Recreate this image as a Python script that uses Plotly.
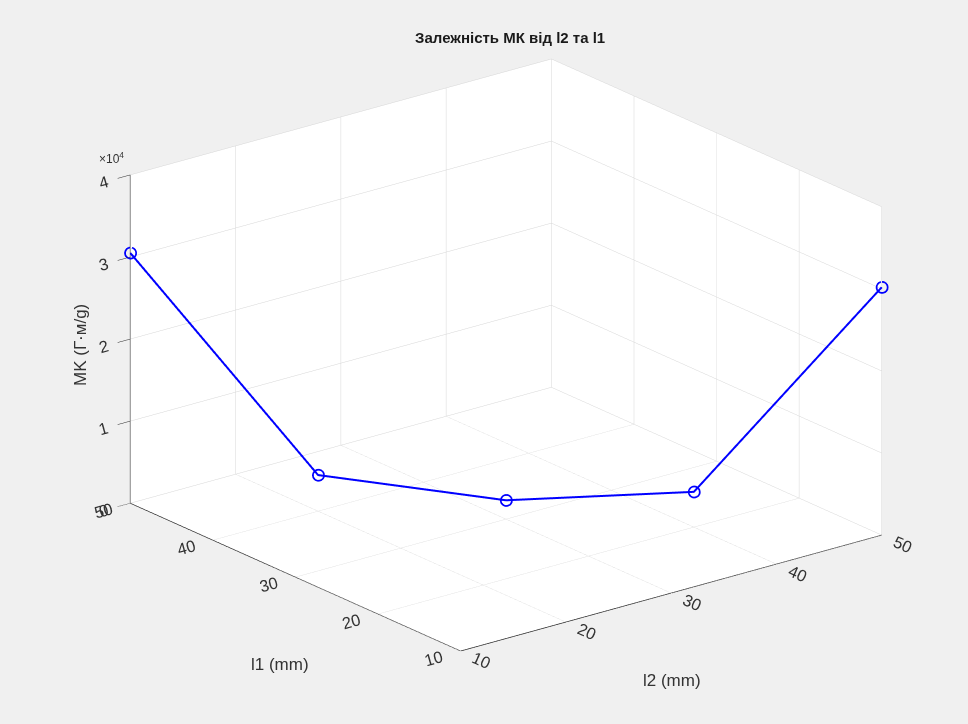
import plotly.graph_objects as go

# Data
l2 = [10, 20, 30, 40, 50]          # x axis (mm)
l1 = [50, 40, 30, 20, 10]          # y axis (mm)
mk = [30500, 4400, 2300, 4300, 30200]  # z axis

title_text = "Залежність МК від l2 та l1"
xlabel = "l2 (mm)"
ylabel = "l1 (mm)"
zlabel = "MK (Г·м/g)"
z_tickvals = [0, 10000, 20000, 30000, 40000]
z_ticktext = ["0", "1", "2", "3", "4"]
xy_ticks = [10, 20, 30, 40, 50]

FONT = "Liberation Sans, Arial, sans-serif"

fig = go.Figure()
fig.add_trace(go.Scatter3d(
    x=l2, y=l1, z=mk,
    mode="lines+markers",
    line=dict(color="rgb(0,0,255)", width=4),
    marker=dict(symbol="circle-open", size=7, color="rgb(0,0,255)",
                line=dict(color="rgb(0,0,255)", width=2)),
    showlegend=False,
))

axis_common = dict(
    showbackground=True,
    backgroundcolor="white",
    gridcolor="#d6d6d6",
    gridwidth=1,
    showline=True,
    linecolor="#262626",
    linewidth=1.5,
    ticks="outside",
    ticklen=5,
    tickcolor="#262626",
    zeroline=False,
    tickfont=dict(family=FONT, size=14, color="#333333"),
    title=dict(text=""),
    showspikes=False,
)
xy_extra = dict(ticklen=16, tickcolor="rgba(0,0,0,0)")

k = 1.525
s = 1.31
fig.update_layout(
    width=968, height=724,
    paper_bgcolor="#f0f0f0",
    margin=dict(l=0, r=0, t=0, b=0),
    title=dict(text="<b>" + title_text + "</b>", x=0.527, xanchor="center",
               y=0.948, yanchor="middle",
               font=dict(family=FONT, size=15, color="#1a1a1a")),
    scene=dict(
        domain=dict(x=[0.0455, 1.0], y=[0.0247, 0.9947]),
        xaxis=dict(axis_common, **xy_extra, range=[10, 50], tickvals=xy_ticks),
        yaxis=dict(axis_common, **xy_extra, range=[10, 50], tickvals=xy_ticks),
        zaxis=dict(axis_common, ticklen=2, range=[0, 40000],
                   tickvals=z_tickvals, ticktext=z_ticktext),
        aspectmode="manual",
        aspectratio=dict(x=1 * k, y=1 * k, z=0.655 * k),
        camera=dict(
            projection=dict(type="orthographic"),
            eye=dict(x=-0.578 * s, y=-0.737 * s, z=0.351 * s),
            center=dict(x=0, y=0, z=0),
            up=dict(x=0, y=0, z=1),
        ),
    ),
    annotations=[
        dict(text="×10<sup>4</sup>", x=0.100, y=0.782, xref="paper", yref="paper",
             showarrow=False, xanchor="left", yanchor="middle",
             font=dict(family=FONT, size=12, color="#333333")),
        dict(text=ylabel, x=280 / 968, y=1 - 664 / 724, xref="paper", yref="paper",
             showarrow=False, xanchor="center", yanchor="middle",
             font=dict(family=FONT, size=17, color="#333333")),
        dict(text=xlabel, x=672 / 968, y=1 - 680 / 724, xref="paper", yref="paper",
             showarrow=False, xanchor="center", yanchor="middle",
             font=dict(family=FONT, size=17, color="#333333")),
        dict(text=zlabel, x=80 / 968, y=1 - 345 / 724, xref="paper", yref="paper",
             showarrow=False, xanchor="center", yanchor="middle", textangle=-90,
             font=dict(family=FONT, size=17, color="#333333")),
    ],
)

fig.write_html("out.html")
